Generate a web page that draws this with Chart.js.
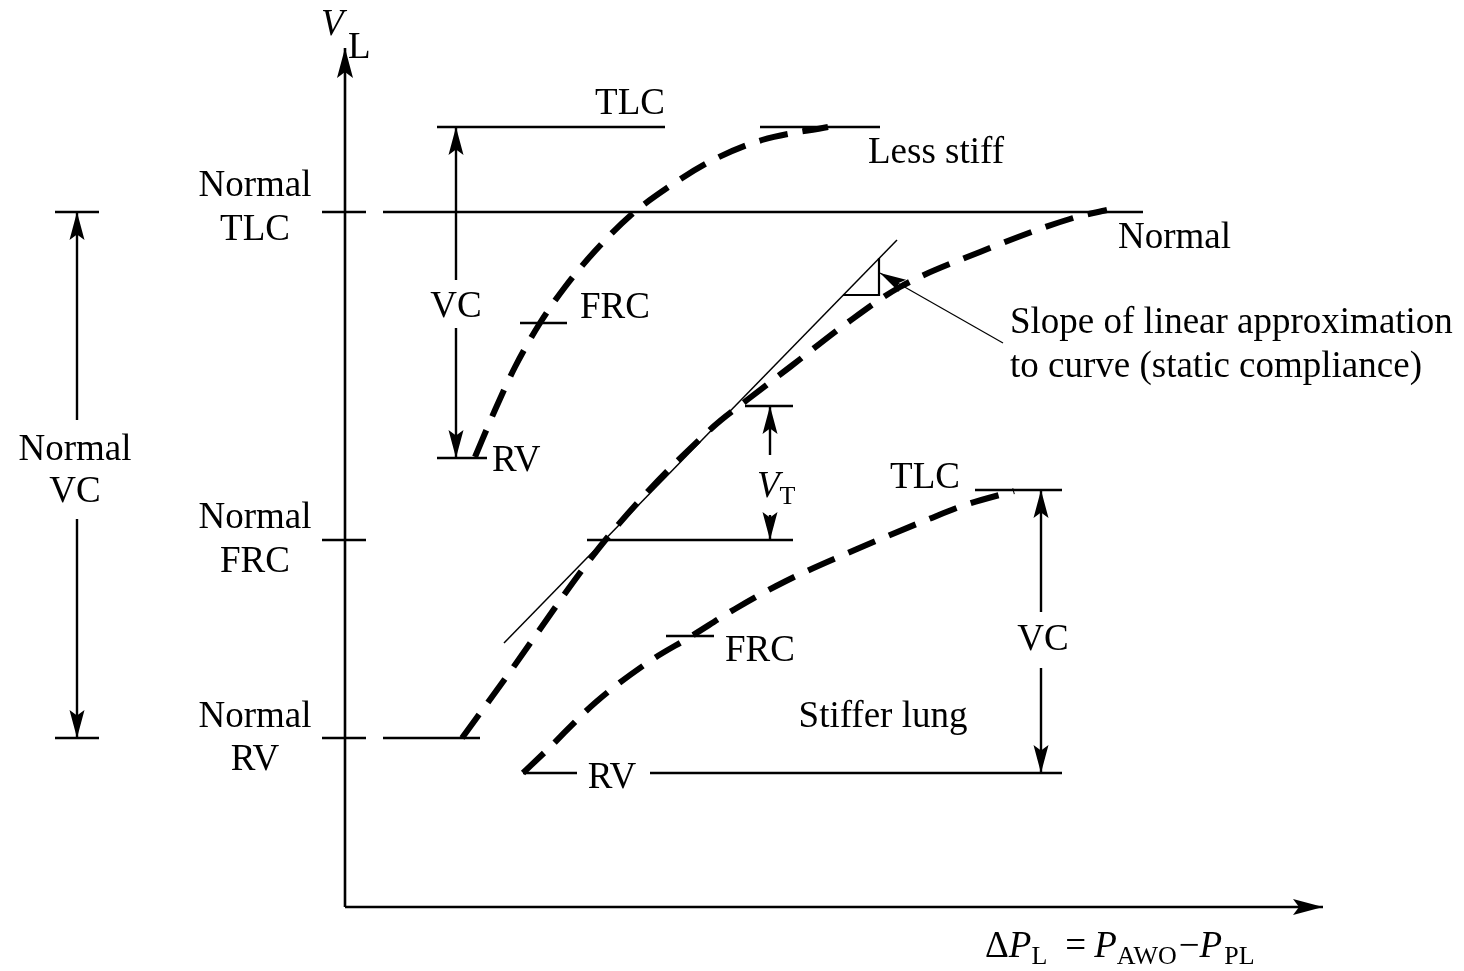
<!DOCTYPE html>
<html>
<head>
<meta charset="utf-8">
<script src="https://cdn.jsdelivr.net/npm/chart.js@4/dist/chart.umd.min.js"></script>
<style>
  html, body { margin: 0; padding: 0; background: #fff; }
</style>
</head>
<body>
<canvas id="lungChart" width="1464" height="971"></canvas>
<script>
// Pressure (x) and lung volume (y), arbitrary diagram units, origin at the axes corner
const normalP    = [11.7, 15.7, 26.2, 36.8, 40.2, 44.5, 50.2, 55.5, 63.5, 72.8, 76.2];
const normalV    = [16.9, 22.4, 36.9, 48.0, 50.7, 54.0, 58.4, 62.0, 65.5, 68.9, 69.7];
const lessStiffP = [13.0, 15.0, 17.0, 19.5, 22.0, 25.0, 28.6, 32.2, 36.8, 41.7, 48.3];
const lessStiffV = [45.0, 49.7, 54.0, 58.4, 62.0, 65.6, 69.2, 71.9, 74.7, 76.7, 78.0];
const stifferP   = [17.8, 20.1, 25.1, 30.5, 34.5, 39.0, 44.1, 51.2, 58.4, 62.0, 66.9];
const stifferV   = [13.4, 15.6, 20.5, 24.6, 27.0, 29.8, 32.6, 35.8, 38.8, 40.2, 41.6];
const tangentP   = [15.9, 55.2];
const tangentV   = [26.4, 66.7];

// volume levels: TLC, FRC, RV
const levelNames      = ['TLC', 'FRC', 'RV'];
const normalLevels    = [69.5, 36.7, 16.9];
const lessStiffLevels = [78.0, 58.4, 44.9];
const stifferLevels   = [41.7, 27.1, 13.4];
const tidalTop = 50.1;

const datasets = [];

function line(p, v, extra) {
  datasets.push(Object.assign({
    data: p.map((x, i) => ({ x: x, y: v[i] })),
    borderColor: '#000',
    borderWidth: 2.4,
    pointRadius: 0,
    fill: false,
    tension: 0
  }, extra || {}));
}
function hline(p0, p1, v) { line([p0, p1], [v, v]); }

// double arrow split around a label
function vArrow(p, top, bottom, gapTop, gapBottom) {
  line([p, p], [gapTop, top], { arrowEnd: true });
  line([p, p], [gapBottom, bottom], { arrowEnd: true });
}

// axes
line([0, 0], [0, 85.9], { borderWidth: 2.6, arrowEnd: true, headLen: 30, headHalf: 8 });
line([0, 97.8], [0, 0], { borderWidth: 2.6, arrowEnd: true, headLen: 30, headHalf: 8 });

// normal level ticks on the volume axis
normalLevels.forEach(v => hline(-2.3, 2.1, v));
hline(3.8, 79.8, normalLevels[0]);
hline(24.2, 44.8, normalLevels[1]);
hline(3.8, 13.5, normalLevels[2]);

// normal VC on the left
hline(-29.0, -24.6, normalLevels[0]);
hline(-29.0, -24.6, normalLevels[2]);
vArrow(-26.8, normalLevels[0], normalLevels[2], 48.7, 38.8);

// tidal volume
hline(40.0, 44.8, tidalTop);
vArrow(42.5, tidalTop, normalLevels[1], 45.2, 39.2);

// less stiff lung marks
hline(9.2, 32.0, lessStiffLevels[0]);
hline(41.5, 53.5, lessStiffLevels[0]);
hline(17.5, 22.2, lessStiffLevels[1]);
hline(9.2, 14.2, lessStiffLevels[2]);
vArrow(11.1, lessStiffLevels[0], lessStiffLevels[2], 62.7, 57.9);

// stiffer lung marks
hline(63.0, 71.7, stifferLevels[0]);
hline(32.1, 36.9, stifferLevels[1]);
hline(17.8, 23.2, stifferLevels[2]);
hline(30.5, 71.7, stifferLevels[2]);
vArrow(69.6, stifferLevels[0], stifferLevels[2], 29.5, 23.9);

// tangent (static compliance) with slope triangle and pointer
line(tangentP, tangentV, { borderWidth: 1.5 });
line([49.8, 53.4, 53.4], [61.2, 61.2, 64.9], { borderWidth: 2.2 });
line([65.8, 53.5], [56.4, 63.4], { borderWidth: 1.2, arrowEnd: true, headLen: 26, headHalf: 7 });

// pressure-volume curves
const dashed = { borderWidth: 6, borderDash: [29, 15], cubicInterpolationMode: 'monotone' };
line(normalP, normalV, dashed);
line(lessStiffP, lessStiffV, dashed);
line(stifferP, stifferV, dashed);

const FONT = '"Liberation Serif", "Times New Roman", serif';
const SIZE = 37;
const SUB = 26;

// [text, p, v, align]
const labels = [
  ['Normal', -9.0, 72.1, 'center'], ['TLC', -9.0, 67.7, 'center'],
  ['Normal', -9.0, 38.9, 'center'], ['FRC', -9.0, 34.5, 'center'],
  ['Normal', -9.0, 19.0, 'center'], ['RV', -9.0, 14.7, 'center'],
  ['Normal', -27.0, 45.7, 'center'], ['VC', -27.0, 41.5, 'center'],
  ['TLC', 28.5, 80.3, 'center'],
  ['Less stiff', 52.3, 75.4, 'left'],
  ['Normal', 77.3, 66.9, 'left'],
  ['VC', 11.1, 60.0, 'center'],
  ['FRC', 23.5, 59.9, 'left'],
  ['RV', 14.7, 44.6, 'left'],
  ['Slope of linear approximation', 66.5, 58.4, 'left'],
  ['to curve (static compliance)', 66.5, 54.0, 'left'],
  ['TLC', 58.0, 42.9, 'center'],
  ['VC', 69.8, 26.7, 'center'],
  ['FRC', 38.0, 25.6, 'left'],
  ['Stiffer lung', 53.8, 19.0, 'center'],
  ['RV', 26.7, 12.9, 'center']
];

// runs of [text, style, extra gap before] laid out left to right from a baseline point
const axisLabelRuns = [['Δ', 'n', 0], ['P', 'i', 0], ['L', 's', 0], ['=', 'n', 18], ['P', 'i', 8], ['AWO', 's', 0], ['−', 'n', 2], ['P', 'i', 0], ['PL', 's', 2]];
const tidalRuns = [['V', 'i', 0], ['T', 's', 0]];

const overlay = {
  id: 'overlay',
  afterDatasetsDraw(chart) {
    const ctx = chart.ctx;
    const xs = chart.scales.x, ys = chart.scales.y;
    ctx.save();
    ctx.fillStyle = '#000';

    chart.data.datasets.forEach((d, i) => {
      if (!d.arrowEnd) return;
      const pts = chart.getDatasetMeta(i).data;
      const to = pts[pts.length - 1], from = pts[pts.length - 2];
      const len = d.headLen || 28, half = d.headHalf || 7.5;
      const a = Math.atan2(to.y - from.y, to.x - from.x);
      ctx.beginPath();
      ctx.moveTo(to.x, to.y);
      ctx.lineTo(to.x - len * Math.cos(a) + half * Math.sin(a), to.y - len * Math.sin(a) - half * Math.cos(a));
      ctx.lineTo(to.x - len * Math.cos(a) * 0.8, to.y - len * Math.sin(a) * 0.8);
      ctx.lineTo(to.x - len * Math.cos(a) - half * Math.sin(a), to.y - len * Math.sin(a) + half * Math.cos(a));
      ctx.closePath();
      ctx.fill();
    });

    ctx.textBaseline = 'middle';
    ctx.font = SIZE + 'px ' + FONT;
    labels.forEach(l => {
      ctx.textAlign = l[3];
      ctx.fillText(l[0], xs.getPixelForValue(l[1]), ys.getPixelForValue(l[2]));
    });

    function runs(list, p, v) {
      let x = xs.getPixelForValue(p);
      const y = ys.getPixelForValue(v);
      ctx.textAlign = 'left';
      ctx.textBaseline = 'alphabetic';
      list.forEach(r => {
        x += r[2];
        ctx.font = (r[1] === 'i' ? 'italic ' : '') + (r[1] === 's' ? SUB : SIZE) + 'px ' + FONT;
        ctx.fillText(r[0], x, r[1] === 's' ? y + 7 : y);
        x += ctx.measureText(r[0]).width;
      });
    }
    runs(axisLabelRuns, 64.0, -5.0);
    runs(tidalRuns, 41.2, 41.0);

    // V_L at the top of the volume axis
    ctx.textAlign = 'left';
    ctx.textBaseline = 'alphabetic';
    ctx.font = 'italic ' + SIZE + 'px ' + FONT;
    ctx.fillText('V', xs.getPixelForValue(-2.4), ys.getPixelForValue(87.2));
    ctx.font = SIZE + 'px ' + FONT;
    ctx.fillText('L', xs.getPixelForValue(0.3), ys.getPixelForValue(84.9));
    ctx.restore();
  }
};

new Chart(document.getElementById('lungChart').getContext('2d'), {
  type: 'line',
  data: { datasets: datasets },
  options: {
    responsive: false,
    animation: false,
    events: [],
    layout: { padding: 0 },
    scales: {
      x: { type: 'linear', min: -34.5, max: 111.9, display: false },
      y: { type: 'linear', min: -6.4, max: 90.7, display: false }
    },
    plugins: {
      legend: { display: false },
      tooltip: { enabled: false }
    }
  },
  plugins: [overlay]
});
</script>
</body>
</html>
